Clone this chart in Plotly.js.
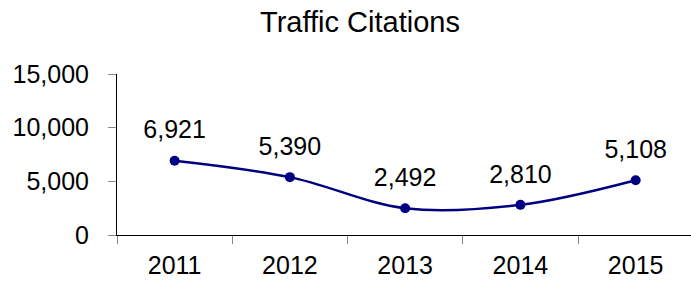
<!DOCTYPE html>
<html>
<head>
<meta charset="utf-8">
<script src="https://cdn.plot.ly/plotly-3.0.1.min.js"></script>
<style>html,body{margin:0;padding:0;background:#fff;}#chart{width:691px;height:282px;}</style>
</head>
<body>
<div id="chart"></div>
<script>
const years = ['2011', '2012', '2013', '2014', '2015'];
const citations = [6921, 5390, 2492, 2810, 5108];
const yTickValues = [0, 5000, 10000, 15000];
const chartTitle = 'Traffic Citations';

const fmt = v => v.toString().replace(/\B(?=(\d{3})+(?!\d))/g, ',');
const FONT = 'Liberation Sans, Arial, sans-serif';

const lineTrace = {
  x: years,
  y: citations,
  type: 'scatter',
  mode: 'lines+markers',
  line: {color: '#000080', width: 2.5, shape: 'spline', smoothing: 1},
  marker: {color: '#000080', size: 10},
  hoverinfo: 'skip',
  cliponaxis: false
};

const labelTrace = {
  x: years,
  y: citations,
  type: 'scatter',
  mode: 'markers+text',
  text: citations.map(fmt),
  textposition: 'top center',
  textfont: {family: FONT, size: 25, color: '#000'},
  marker: {size: 24, color: 'rgba(0,0,0,0)'},
  hoverinfo: 'skip',
  cliponaxis: false
};

const layout = {
  width: 691, height: 282,
  margin: {l: 117, r: 0, t: 74, b: 47},
  paper_bgcolor: '#fff', plot_bgcolor: '#fff',
  showlegend: false,
  title: {
    text: chartTitle,
    font: {family: FONT, size: 29, color: '#000'},
    x: 360 / 691, xref: 'container', xanchor: 'center',
    y: 1 - 32 / 282, yref: 'container', yanchor: 'bottom'
  },
  xaxis: {
    type: 'category',
    range: [-0.5, 4.48],
    showgrid: false, zeroline: false,
    showline: true, linecolor: '#000', linewidth: 1,
    ticks: 'outside', tickson: 'boundaries', ticklen: 8, tickcolor: '#888', tickwidth: 1,
    tickfont: {family: FONT, size: 25, color: '#000'},
    ticklabelstandoff: 8,
    fixedrange: true
  },
  yaxis: {
    range: [0, 15000],
    tickvals: yTickValues,
    ticktext: yTickValues.map(fmt),
    showgrid: false, zeroline: false,
    showline: true, linecolor: '#000', linewidth: 1,
    ticks: 'outside', ticklen: 8, tickcolor: '#888', tickwidth: 1,
    tickfont: {family: FONT, size: 25, color: '#000'},
    ticklabelstandoff: 14,
    fixedrange: true
  }
};

Plotly.newPlot('chart', [lineTrace, labelTrace], layout, {displayModeBar: false, staticPlot: true});
</script>
</body>
</html>
